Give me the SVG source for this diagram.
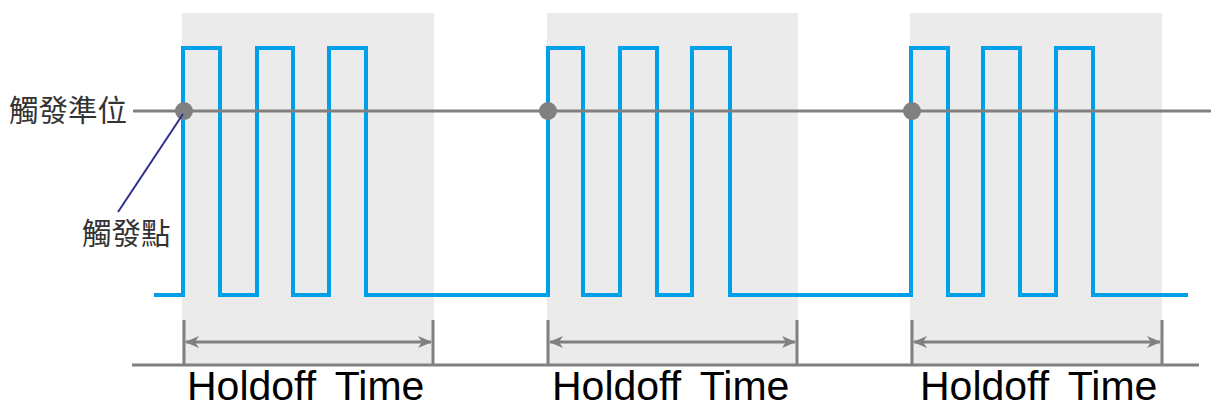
<svg xmlns="http://www.w3.org/2000/svg" width="1211" height="408" viewBox="0 0 1211 408">
<style>
.bg{fill:#ebebeb}
.wave{fill:none;stroke:#00a0e9;stroke-width:4;stroke-linejoin:miter}
.gl{stroke:#808080;stroke-width:3;fill:none}
.dim{stroke:#808080;stroke-width:3;fill:none}
.dot{fill:#808080}
.cjk{font-family:"Noto Sans CJK TC","Noto Sans CJK SC",sans-serif;font-size:29.5px;fill:#333}
.lbl{font-family:"Liberation Sans",Arial,sans-serif;font-size:41px;fill:#000}
</style>
<defs>
<marker id="ah" viewBox="0 0 14 12" refX="13" refY="6" markerWidth="14" markerHeight="12" markerUnits="userSpaceOnUse" orient="auto-start-reverse">
<path d="M0,0 L14,6 L0,12 L4,6 Z" fill="#808080"/>
</marker>
</defs>
<g id="panels">
<rect class="bg" x="182" y="13" width="252" height="351"/>
<rect class="bg" x="547" y="13" width="251" height="351"/>
<rect class="bg" x="910" y="13" width="252" height="351"/>
</g>
<g id="waveform">
<path class="wave" d="M154,295 H183 V48 H220 V295 H257 V48 H293 V295 H329 V48 H366 V295 H548 V48 H583 V295 H620 V48 H657 V295 H692 V48 H730 V295 H911 V48 H948 V295 H983 V48 H1020 V295 H1056 V48 H1093 V295 H1188"/>
</g>
<g id="trigger-level">
<line class="gl" x1="133" y1="111" x2="1211" y2="111"/>
<text class="cjk" x="9" y="121">觸發準位</text>
</g>
<g id="trigger-points">
<circle class="dot" cx="184" cy="111" r="9"/>
<circle class="dot" cx="548" cy="111" r="9"/>
<circle class="dot" cx="912" cy="111" r="9"/>
</g>
<g id="connectors">
<line x1="183" y1="114" x2="118" y2="212" stroke="#2e2e8f" stroke-width="2"/>
<line class="gl" x1="132" y1="365" x2="1199" y2="365"/>
<line class="dim" x1="184" y1="320" x2="184" y2="365"/>
<line class="dim" x1="433" y1="320" x2="433" y2="365"/>
<line class="dim" x1="186" y1="342" x2="431" y2="342" marker-start="url(#ah)" marker-end="url(#ah)"/>
<line class="dim" x1="548" y1="320" x2="548" y2="365"/>
<line class="dim" x1="797" y1="320" x2="797" y2="365"/>
<line class="dim" x1="550" y1="342" x2="795" y2="342" marker-start="url(#ah)" marker-end="url(#ah)"/>
<line class="dim" x1="912" y1="320" x2="912" y2="365"/>
<line class="dim" x1="1162" y1="320" x2="1162" y2="365"/>
<line class="dim" x1="914" y1="342" x2="1160" y2="342" marker-start="url(#ah)" marker-end="url(#ah)"/>
</g>
<g id="trigger-point-label">
<text class="cjk" x="82" y="244">觸發點</text>
</g>
<g id="holdoff-labels">
<text class="lbl" x="187" y="400">Holdoff <tspan dx="8">Time</tspan></text>
<text class="lbl" x="552" y="400">Holdoff <tspan dx="8">Time</tspan></text>
<text class="lbl" x="920" y="400">Holdoff <tspan dx="8">Time</tspan></text>
</g>
</svg>
